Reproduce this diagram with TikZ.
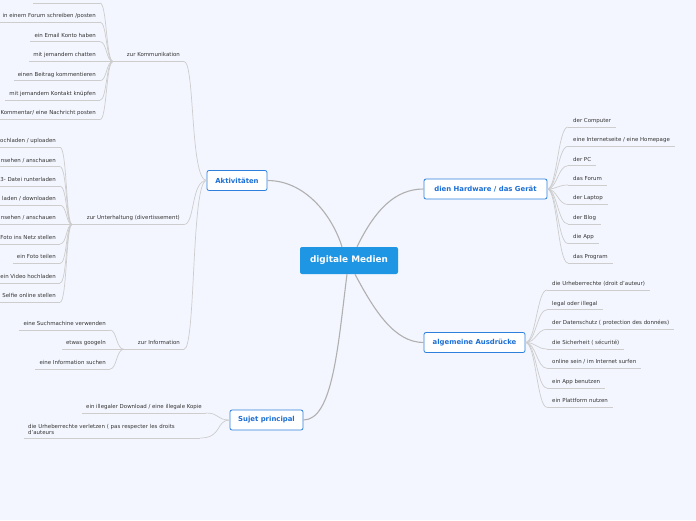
\documentclass[tikz,border=0pt]{standalone}
\usepackage{fontspec}
\setmainfont{DejaVu Sans}
\definecolor{bg}{HTML}{F3F6FE}
\definecolor{leaftext}{HTML}{333333}
\definecolor{leafline}{HTML}{CDCDCD}
\definecolor{mainline}{HTML}{B0B0B0}
\definecolor{centralfill}{HTML}{1E96E4}
\definecolor{topictext}{HTML}{1C6FD6}
\definecolor{topicborder}{HTML}{2F80DD}
\begin{document}
\begin{tikzpicture}[x=1pt,y=-1pt,
  leafL/.style={anchor=south east, inner xsep=4pt, inner ysep=2.8pt, text depth=1.7pt, text height=4.2pt,
    font=\fontsize{5.45}{6}\selectfont, text=leaftext},
  leafR/.style={leafL, anchor=south west, inner xsep=5pt},
  ul/.style={draw=leafline, line width=0.7pt},
  conn/.style={draw=leafline, line width=0.7pt},
  mainconn/.style={draw=mainline, line width=1.1pt},
  topic/.style={draw=topicborder, fill=white, line width=0.8pt, rounded corners=2pt, text=topictext,
    font=\fontsize{6.9}{8}\selectfont\bfseries, minimum height=20pt, inner sep=0pt},
  central/.style={fill=centralfill, rounded corners=2pt, text=white,
    font=\fontsize{8.9}{10}\selectfont\bfseries, minimum width=98pt, minimum height=27pt, inner sep=0pt}
]
\path[fill=bg, use as bounding box] (0,0) rectangle (696,520);

% main nodes
\node[central] (c) at (349,260.5) {digitale Medien};
\node[topic, minimum width=60pt] (akt) at (237,180.5) {Aktivitäten};
\node[topic, minimum width=123pt] (hw) at (485.5,189) {dien Hardware / das Gerät};
\node[topic, minimum width=101pt] (aus) at (474.5,342.5) {algemeine Ausdrücke};
\node[topic, minimum width=73pt] (suj) at (266.5,420) {Sujet principal};

% main connectors
\draw[mainconn] (akt.east) .. controls (305,180.5) and (332,215) .. ([xshift=-7pt]c.north);
\draw[mainconn] ([xshift=8pt]c.north) .. controls (375,210) and (395,189) .. (hw.west);
\draw[mainconn] ([xshift=6pt]c.south) .. controls (375,312) and (395,342.5) .. (aus.west);
\draw[mainconn] ([xshift=-2pt]c.south) .. controls (338,345) and (333,420) .. (suj.east);

% ---- Kommunikation
\node[leafL] (kom) at (184,61.5) {zur Kommunikation};
\coordinate (jk) at (113,61.5);
\draw[ul] (jk) -- (kom.south east);
\draw[conn] (kom.south east) .. controls (195,61.5) and (190,180.5) .. (akt.west);
\coordinate (k0a) at (33,3);
\coordinate (k0) at (100,3);
\draw[ul] (k0a) -- (k0);
\draw[conn] (k0) .. controls (107,3) and (106,61.5) .. (jk);
\foreach \n/\y/\t in {k1/22/{in einem Forum schreiben /posten},
                      k2/41.7/{ein Email Konto haben},
                      k3/61.5/{mit jemandem chatten},
                      k4/80.8/{einen Beitrag kommentieren},
                      k5/100.2/{mit jemandem Kontakt knüpfen},
                      k6/119.6/{Kommentar/ eine Nachricht posten}}{
  \node[leafL] (\n) at (100,\y) {\t};
  \draw[ul] (\n.south west) -- (\n.south east);
  \draw[conn] (\n.south east) .. controls (107,\y) and (106,61.5) .. (jk);
}

% ---- Unterhaltung
\node[leafL] (unt) at (184,224.5) {zur Unterhaltung (divertissement)};
\coordinate (ju) at (72,224.5);
\draw[ul] (ju) -- (unt.south east);
\draw[conn] (unt.south east) .. controls (195,224.5) and (191,180.5) .. (akt.west);
\foreach \n/\y/\t in {u1/147.3/{ochladen / uploaden},
                      u2/166.7/{nsehen / anschauen},
                      u3/186/{3- Datei runterladen},
                      u4/205.2/{laden / downloaden},
                      u5/224.5/{nsehen / anschauen},
                      u6/244/{Foto ins Netz stellen},
                      u7/263.5/{ein Foto teilen},
                      u8/283/{ein Video hochladen},
                      u9/302.3/{Selfie online stellen}}{
  \node[leafL] (\n) at (60,\y) {\t};
  \draw[ul] (\n.south west) -- (\n.south east);
  \draw[conn] (\n.south east) .. controls (67,\y) and (66,224.5) .. (ju);
}

% ---- Information
\node[leafL] (inf) at (184,349.3) {zur Information};
\coordinate (ji) at (124,349.3);
\draw[ul] (ji) -- (inf.south east);
\draw[conn] (inf.south east) .. controls (196,349.3) and (191,180.5) .. (akt.west);
\foreach \n/\y/\t in {i1/330/{eine Suchmachine verwenden},
                      i2/349.3/{etwas googeln},
                      i3/369/{eine Information suchen}}{
  \node[leafL] (\n) at (110,\y) {\t};
  \draw[ul] (\n.south west) -- (\n.south east);
  \draw[conn] (\n.south east) .. controls (117,\y) and (116,349.3) .. (ji);
}

% ---- Sujet principal
\node[leafL] (s1) at (206,413) {ein illegaler Download / eine illegale Kopie};
\node[leafL, anchor=south west, text height=, text depth=, inner ysep=3.2pt,
      text width=168pt, align=left] (s2) at (24,438)
  {die Urheberrechte verletzen ( pas respecter les droits d'auteurs};
\draw[ul] (s1.south west) -- (s1.south east);
\draw[ul] (s2.south west) -- (s2.south east);
\draw[conn] (s1.south east) .. controls (220,413) and (216,420) .. (suj.west);
\draw[conn] (s2.south east) .. controls (222,438) and (216,420) .. (suj.west);

% ---- Hardware
\foreach \n/\y/\t in {h1/127/{der Computer},
                      h2/146.3/{eine Internetseite / eine Homepage},
                      h3/165.7/{der PC},
                      h4/185/{das Forum},
                      h5/204.5/{der Laptop},
                      h6/224/{der Blog},
                      h7/243.5/{die App},
                      h8/263/{das Program}}{
  \node[leafR] (\n) at (568,\y) {\t};
  \draw[ul] (\n.south west) -- (\n.south east);
  \draw[conn] (hw.east) .. controls (557,189) and (558,\y) .. (\n.south west);
}

% ---- Ausdruecke
\foreach \n/\y/\t in {a1/290/{die Urheberrechte (droit d'auteur)},
                      a2/309.7/{legal oder illegal},
                      a3/329.3/{der Datenschutz ( protection des données)},
                      a4/349/{die Sicherheit ( sécurité)},
                      a5/368.3/{online sein / im Internet surfen},
                      a6/388/{ein App benutzen},
                      a7/407.3/{ein Plattform nutzen}}{
  \node[leafR] (\n) at (547,\y) {\t};
  \draw[ul] (\n.south west) -- (\n.south east);
  \draw[conn] (aus.east) .. controls (536,342.5) and (537,\y) .. (\n.south west);
}
\end{tikzpicture}
\end{document}
